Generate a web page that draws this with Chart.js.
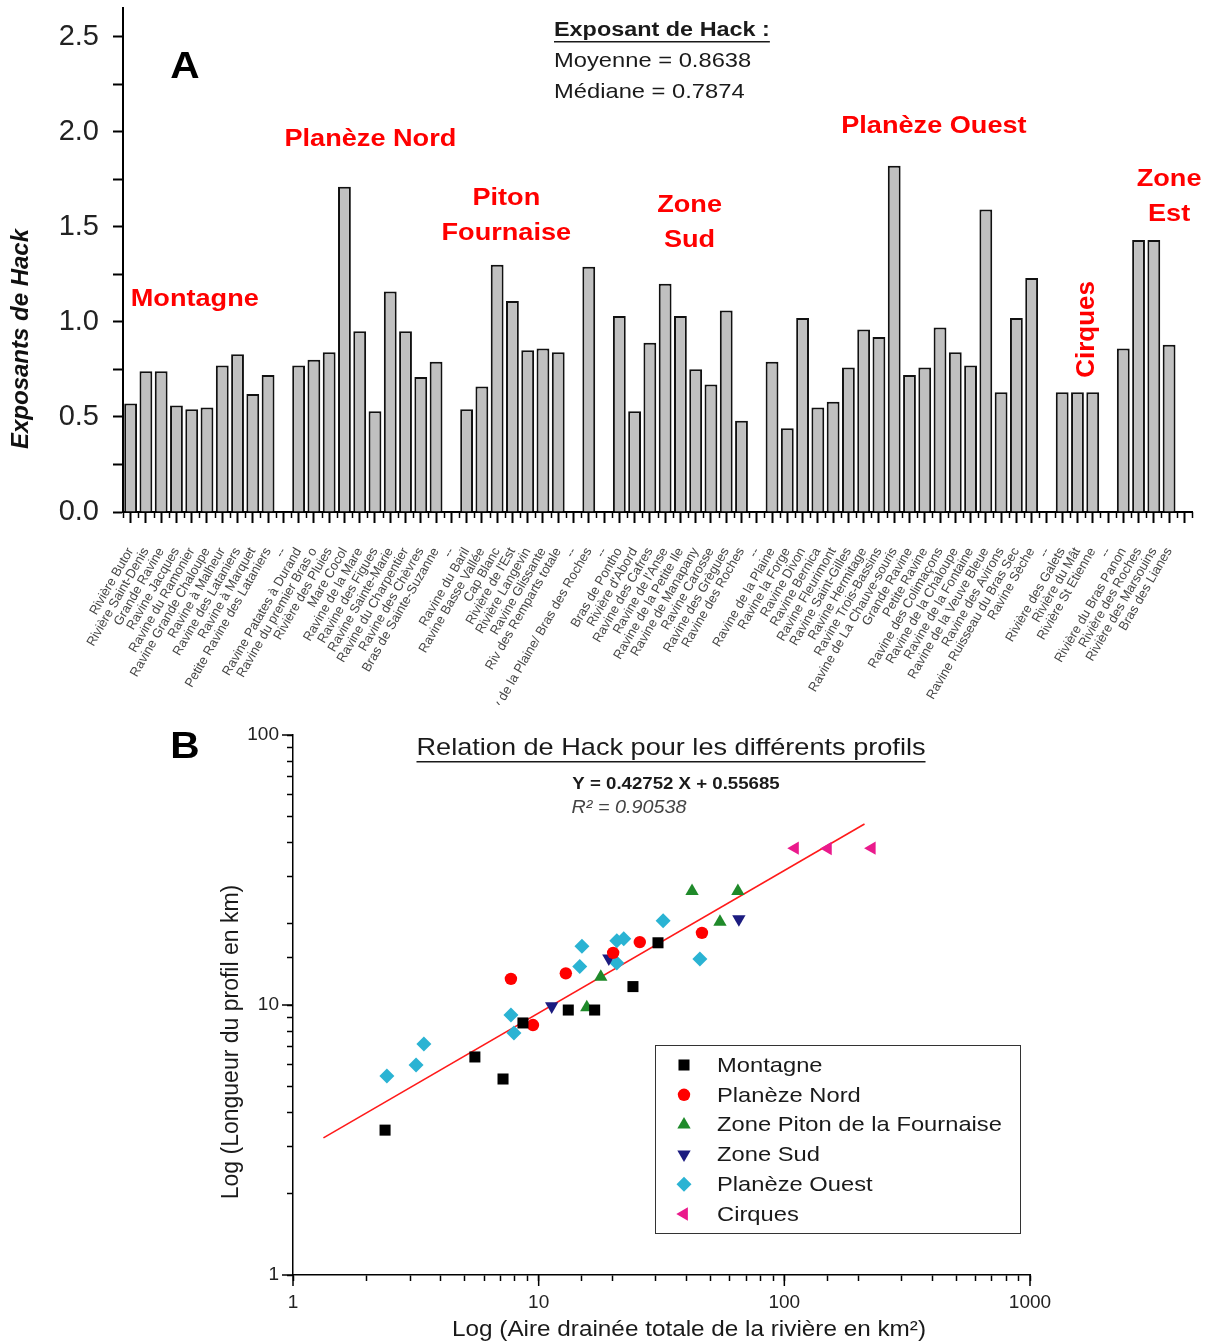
<!DOCTYPE html>
<html lang="fr">
<head>
  <meta charset="UTF-8" />
  <title>Exposants de Hack - La Réunion</title>
  <script src="https://cdn.jsdelivr.net/npm/chart.js"></script>
  <style>
    body {
      margin: 0;
      background: #fff;
    }
    #wrap {
      position: relative;
      width: 1210px;
      height: 1344px;
    }
    canvas {
      position: absolute;
      left: 0;
    }
    #barres { top: 0; }
    #hack { top: 705px; }
  </style>
</head>
<body>
  <div id="wrap">
    <canvas id="barres" width="1210" height="705"></canvas>
    <canvas id="hack" width="1210" height="639"></canvas>
  </div>

  <script>
    // ---- A : exposants de Hack par ravine ----
    const montagneNoms = ['Rivière Butor', 'Rivière Saint-Denis', 'Grande Ravine', 'Ravine Jacques', 'Ravine du Ramonier',
      'Ravine Grande Chaloupe', 'Ravine à Malheur', 'Ravine des Lataniers', 'Ravine à Marquet', 'Petite Ravine des Lataniers'];
    const montagneHack = [0.57, 0.74, 0.74, 0.56, 0.54, 0.55, 0.77, 0.83, 0.62, 0.72];

    const nordNoms = ['Ravine Patates à Durand', 'Ravine du premier Bras o', 'Rivière des Pluies', 'Mare Cocol', 'Ravine de la Mare',
      'Ravine des Figues', 'Ravine Sainte-Marie', 'Ravine du Charpentier', 'Ravine des Chèvres', 'Bras de Sainte-Suzanne'];
    const nordHack = [0.77, 0.80, 0.84, 1.71, 0.95, 0.53, 1.16, 0.95, 0.71, 0.79];

    const fournaiseNoms = ['Ravine du Baril', 'Ravine Basse Vallée', 'Cap Blanc', "Rivière de l'Est", 'Rivière Langevin',
      'Ravine Glissante', 'Riv des Remparts totale'];
    const fournaiseHack = [0.54, 0.66, 1.30, 1.11, 0.85, 0.86, 0.84];

    const plaineNoms = ['Riv de la Plaine/ Bras des Roches'];
    const plaineHack = [1.29];

    const sudNoms = ['Bras de Pontho', "Rivière d'Abord", 'Ravine des Cafres', "Ravine de l'Anse", 'Ravine de la Petite Ile',
      'Ravine de Manapany', 'Ravine Carosse', 'Ravine des Grègues', 'Ravine des Roches'];
    const sudHack = [1.03, 0.53, 0.89, 1.20, 1.03, 0.75, 0.67, 1.06, 0.48];

    const ouestNoms = ['Ravine de la Plaine', 'Ravine la Forge', 'Ravine Divon', 'Ravine Bernica', 'Ravine Fleurimont',
      'Ravine Saint-Gilles', 'Ravine Hermitage', 'Ravine Trois-Bassins', 'Ravine de La Chauve-souris', 'Grande Ravine',
      'Petite Ravine', 'Ravine des Colimaçons', 'Ravine de la Chaloupe', 'Ravine de la Fontaine', 'Ravine de la Veuve Bleue',
      'Ravine des Avirons', 'Ravine Ruisseau du Bras Sec', 'Ravine Sèche'];
    const ouestHack = [0.79, 0.44, 1.02, 0.55, 0.58, 0.76, 0.96, 0.92, 1.82, 0.72, 0.76, 0.97, 0.84, 0.77, 1.59, 0.63, 1.02, 1.23];

    const cirquesNoms = ['Rivière des Galets', 'Rivière du Mât', 'Rivière St Etienne'];
    const cirquesHack = [0.63, 0.63, 0.63];

    const estNoms = ['Rivière du Bras Panon', 'Rivière des Roches', 'Rivière des Marsouins', 'Bras des Lianes'];
    const estHack = [0.86, 1.43, 1.43, 0.88];

    const yGraduationsA = [0, 0.25, 0.5, 0.75, 1.0, 1.25, 1.5, 1.75, 2.0, 2.25, 2.5];
    const yTicksA = [0, 0.5, 1.0, 1.5, 2.0, 2.5];

    // ---- B : relation de Hack (aire drainée km², longueur km) ----
    const montagneAire = [2.37, 5.50, 7.16, 8.63, 13.2, 16.9, 24.2, 30.6];
    const montagneLong = [3.44, 6.42, 5.32, 8.58, 9.58, 9.58, 11.7, 17.0];
    const nordAire = [7.71, 9.48, 12.9, 20.1, 25.8, 46.2];
    const nordLong = [12.5, 8.43, 13.1, 15.6, 17.1, 18.5];
    const fournaiseAire = [15.7, 17.9, 42.1, 54.7, 64.7];
    const fournaiseLong = [9.8, 12.7, 26.4, 20.3, 26.4];
    const sudAire = [11.3, 19.3, 65.3];
    const sudLong = [9.9, 14.9, 20.8];
    const ouestAire = [2.41, 3.17, 3.41, 7.71, 7.93, 14.7, 15.0, 20.8, 22.2, 20.8, 32.1, 45.3];
    const ouestLong = [5.46, 5.99, 7.17, 9.19, 7.87, 13.9, 16.5, 17.3, 17.6, 14.3, 20.5, 14.8];
    const cirquesAire = [110.5, 150.4, 227];
    const cirquesLong = [38.1, 38.0, 38.1];
    const droiteAire = [1.33, 212];
    const droiteLong = [3.22, 46.8];

    const police = 'Arial, "Liberation Sans", sans-serif';
    Chart.defaults.font.family = police;
    Chart.defaults.color = '#222';

    // le texte de la figure d'origine est un peu étiré en largeur
    const ETIRE = 1.13;
    function texte(ctx, str, x, y, etire) {
      ctx.save();
      ctx.translate(x, y);
      ctx.scale(etire || ETIRE, 1);
      ctx.fillText(str, 0, 0);
      ctx.restore();
    }

    // montage des catégories avec un vide entre les zones
    const blocs = [
      [montagneNoms, montagneHack], [nordNoms, nordHack], [fournaiseNoms, fournaiseHack], [plaineNoms, plaineHack],
      [sudNoms, sudHack], [ouestNoms, ouestHack], [cirquesNoms, cirquesHack], [estNoms, estHack]
    ];
    const labels = [];
    const valeurs = [];
    blocs.forEach(([noms, vals], i) => {
      noms.forEach((n, j) => { labels.push(n); valeurs.push(vals[j]); });
      if (i < blocs.length - 1) { labels.push('--'); valeurs.push(null); }
    });
    labels.push('');
    valeurs.push(null);

    const zonesA = [
      { texte: ['Montagne'], at: 4.2, y: 1.12 },
      { texte: ['Planèze Nord'], at: 15.7, y: 1.96 },
      { texte: ['Piton', 'Fournaise'], at: 24.6, y: 1.65 },
      { texte: ['Zone', 'Sud'], at: 36.6, y: 1.61 },
      { texte: ['Planèze Ouest'], at: 52.6, y: 2.03 },
      { texte: ['Zone', 'Est'], at: 68.0, y: 1.75 }
    ];

    const decorA = {
      id: 'decorA',
      afterDraw(chart) {
        const { ctx, scales: { x, y }, chartArea } = chart;
        ctx.save();
        // petites graduations entre les catégories
        ctx.strokeStyle = '#000';
        ctx.lineWidth = 1.5;
        for (let i = 0; i <= labels.length; i++) {
          const px = Math.round(x.getPixelForValue(i - 0.5)) + 0.5;
          ctx.beginPath();
          ctx.moveTo(px, chartArea.bottom);
          ctx.lineTo(px, chartArea.bottom + 6);
          ctx.stroke();
        }
        // noms des zones
        ctx.fillStyle = '#ff0000';
        ctx.font = 'bold 24px ' + police;
        ctx.textAlign = 'center';
        ctx.textBaseline = 'middle';
        zonesA.forEach(z => {
          z.texte.forEach((t, k) => {
            texte(ctx, t, x.getPixelForValue(z.at), y.getPixelForValue(z.y) + k * 35);
          });
        });
        ctx.save();
        ctx.translate(x.getPixelForValue(62.6), y.getPixelForValue(0.96));
        ctx.rotate(-Math.PI / 2);
        ctx.font = 'bold 26px ' + police;
        ctx.fillText('Cirques', 0, 0);
        ctx.restore();

        // lettre A
        ctx.fillStyle = '#000';
        ctx.font = 'bold 36px ' + police;
        texte(ctx, 'A', 185, 68);

        // encadré moyenne / médiane
        ctx.textAlign = 'left';
        ctx.fillStyle = '#1a1a1a';
        ctx.font = 'bold 20px ' + police;
        texte(ctx, 'Exposant de Hack :', 554, 30, 1.17);
        const w = ctx.measureText('Exposant de Hack :').width * 1.17;
        ctx.fillRect(554, 41, w, 1.5);
        ctx.font = '21px ' + police;
        texte(ctx, 'Moyenne = 0.8638', 554, 61);
        texte(ctx, 'Médiane = 0.7874', 554, 92);

        // titre de l'axe Y
        ctx.save();
        ctx.translate(21, 339);
        ctx.rotate(-Math.PI / 2);
        ctx.textAlign = 'center';
        ctx.font = 'italic bold 24px ' + police;
        ctx.fillStyle = '#111';
        ctx.fillText('Exposants de Hack', 0, 0);
        ctx.restore();
        ctx.restore();
      }
    };

    new Chart(document.getElementById('barres').getContext('2d'), {
      type: 'bar',
      data: {
        labels: labels,
        datasets: [{
          data: valeurs,
          backgroundColor: '#c0c0c0',
          borderColor: '#111',
          borderWidth: 2,
          barPercentage: 0.84,
          categoryPercentage: 1
        }]
      },
      options: {
        responsive: false,
        animation: false,
        layout: { padding: { top: 8, right: 18, left: 0, bottom: 0 } },
        plugins: { legend: { display: false }, tooltip: { enabled: false } },
        scales: {
          x: {
            offset: true,
            grid: { drawOnChartArea: false, offset: false, tickLength: 11, tickColor: '#000', tickWidth: 2 },
            border: { color: '#000', width: 2 },
            ticks: { autoSkip: false, minRotation: 60, maxRotation: 60, font: { size: 13 }, color: '#444', padding: 22 },
            afterFit: s => { s.height = 193; s.paddingLeft = 0; s.paddingRight = 0; }
          },
          y: {
            min: 0,
            max: 2.65,
            grid: { drawOnChartArea: false, tickLength: 10, tickColor: '#000', tickWidth: 2 },
            border: { color: '#000', width: 2 },
            ticks: {
              autoSkip: false,
              font: { size: 29 },
              color: '#222',
              padding: 14,
              callback: v => (yTicksA.some(t => Math.abs(t - v) < 1e-6) ? v.toFixed(1) : '')
            },
            afterBuildTicks: s => { s.ticks = yGraduationsA.map(v => ({ value: v })); },
            afterFit: s => { s.width = 123; s.paddingTop = 0; s.paddingBottom = 0; }
          }
        }
      },
      plugins: [decorA]
    });

    // ---- B ----
    const pts = (xs, ys) => xs.map((v, i) => ({ x: v, y: ys[i] }));
    const estPuissance10 = v => Math.abs(Math.log10(v) - Math.round(Math.log10(v))) < 1e-9;

    const decorB = {
      id: 'decorB',
      afterDraw(chart) {
        const { ctx, scales: { x, y }, chartArea } = chart;
        ctx.save();
        // graduations principales plus longues
        ctx.strokeStyle = '#000';
        ctx.lineWidth = 1.5;
        [1, 10, 100, 1000].forEach(v => {
          const px = x.getPixelForValue(v);
          ctx.beginPath(); ctx.moveTo(px, chartArea.bottom); ctx.lineTo(px, chartArea.bottom + 11); ctx.stroke();
        });
        [1, 10, 100].forEach(v => {
          const py = y.getPixelForValue(v);
          ctx.beginPath(); ctx.moveTo(chartArea.left, py); ctx.lineTo(chartArea.left - 11, py); ctx.stroke();
        });

        ctx.fillStyle = '#000';
        ctx.textAlign = 'center';
        ctx.textBaseline = 'middle';
        ctx.font = 'bold 36px ' + police;
        texte(ctx, 'B', 185, 43);

        // titre souligné
        ctx.fillStyle = '#1a1a1a';
        ctx.font = '24px ' + police;
        const titre = 'Relation de Hack pour les différents profils';
        texte(ctx, titre, 671, 43);
        const tw = ctx.measureText(titre).width * ETIRE;
        ctx.fillRect(671 - tw / 2, 56, tw, 1.5);

        ctx.font = 'bold 16.5px ' + police;
        texte(ctx, 'Y = 0.42752 X + 0.55685', 676, 79);
        ctx.font = 'italic 17.5px ' + police;
        ctx.fillStyle = '#444';
        texte(ctx, 'R² = 0.90538', 629, 103);

        // titres des axes
        ctx.fillStyle = '#1a1a1a';
        ctx.font = '21.5px ' + police;
        texte(ctx, 'Log (Aire drainée totale de la rivière en km²)', 689, 625);
        ctx.save();
        ctx.translate(232, 337);
        ctx.rotate(-Math.PI / 2);
        ctx.font = '23px ' + police;
        ctx.fillText('Log (Longueur du profil en km)', 0, 0);
        ctx.restore();

        // légende
        ctx.strokeStyle = '#333';
        ctx.lineWidth = 1;
        ctx.strokeRect(655.5, 340.5, 365, 188);
        ctx.textAlign = 'left';
        ctx.font = '21px ' + police;
        chart.data.datasets.filter(d => !d.showLine).forEach((d, i) => {
          const ly = 360 + i * 29.8;
          ctx.fillStyle = d.backgroundColor;
          Chart.helpers.drawPoint(ctx, { pointStyle: d.pointStyle, radius: d.pointRadius, rotation: d.rotation || 0, borderWidth: 0 }, 684, ly);
          ctx.fillStyle = '#1a1a1a';
          texte(ctx, d.label, 717, ly + 1);
        });
        ctx.restore();
      }
    };

    const serie = (label, data, style, couleur, taille, rotation) => ({
      label: label,
      data: data,
      pointStyle: style,
      pointRadius: taille,
      rotation: rotation || 0,
      backgroundColor: couleur,
      borderColor: couleur,
      borderWidth: 0,
      order: 0
    });

    new Chart(document.getElementById('hack').getContext('2d'), {
      type: 'scatter',
      data: {
        datasets: [
          serie('Montagne', pts(montagneAire, montagneLong), 'rect', '#000000', 7.8),
          serie('Planèze Nord', pts(nordAire, nordLong), 'circle', '#ff0000', 6.2),
          serie('Zone Piton de la Fournaise', pts(fournaiseAire, fournaiseLong), 'triangle', '#1f8a2a', 7.7),
          serie('Zone Sud', pts(sudAire, sudLong), 'triangle', '#1c1c80', 7.7, 180),
          serie('Planèze Ouest', pts(ouestAire, ouestLong), 'rectRot', '#2ab3d3', 7.5),
          serie('Cirques', pts(cirquesAire, cirquesLong), 'triangle', '#ea1a8c', 7.7, 270),
          {
            label: 'Régression',
            data: pts(droiteAire, droiteLong),
            showLine: true,
            borderColor: '#ff1a1a',
            backgroundColor: '#ff1a1a',
            borderWidth: 1.6,
            pointRadius: 0,
            order: 1
          }
        ]
      },
      options: {
        responsive: false,
        animation: false,
        layout: { padding: { top: 30, right: 180, left: 0, bottom: 0 } },
        plugins: { legend: { display: false }, tooltip: { enabled: false } },
        scales: {
          x: {
            type: 'logarithmic',
            min: 1,
            max: 1000,
            grid: { drawOnChartArea: false, tickLength: 6, tickColor: '#000', tickWidth: 1.5 },
            border: { color: '#000', width: 1.5 },
            ticks: { autoSkip: false, maxRotation: 0, font: { size: 19 }, color: '#222', padding: 10,
              callback: v => (estPuissance10(v) ? String(v) : '') },
            afterFit: s => { s.height = 69; }
          },
          y: {
            type: 'logarithmic',
            min: 1,
            max: 100,
            grid: { drawOnChartArea: false, tickLength: 6, tickColor: '#000', tickWidth: 1.5 },
            border: { color: '#000', width: 1.5 },
            ticks: { autoSkip: false, font: { size: 19 }, color: '#222', padding: 8,
              callback: v => (estPuissance10(v) ? String(v) : '') },
            afterFit: s => { s.width = 293; }
          }
        }
      },
      plugins: [decorB]
    });
  </script>
</body>
</html>
